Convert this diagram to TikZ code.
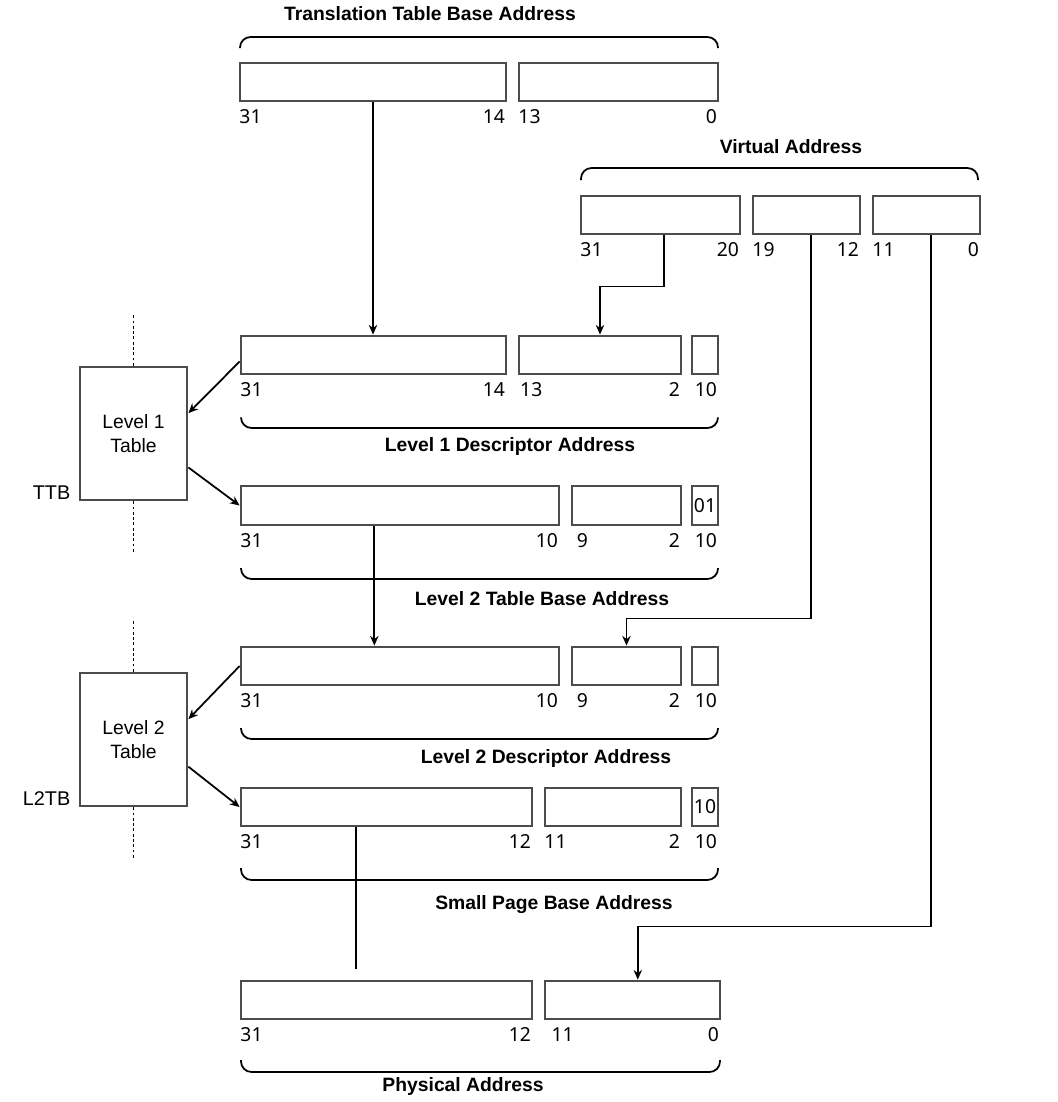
\documentclass[tikz,border=0pt]{standalone}
\usepackage{fontspec}
\setmainfont{Liberation Sans}
\newfontfamily\bitfont{Noto Sans}
\usetikzlibrary{arrows.meta,fit,calc}

\tikzset{
  field/.style={draw=black!70, line width=1.6pt, inner sep=0pt, fill=white},
  tablebox/.style={draw=black!70, line width=1.6pt, inner sep=0pt, align=center,
    font=\fontsize{11}{14}\selectfont},
  bitl/.style={anchor=base west, inner sep=0pt, yshift=-12.2pt, xshift=0.3pt,
    font=\bitfont\fontsize{11}{12}\selectfont},
  bitr/.style={anchor=base east, inner sep=0pt, yshift=-12.2pt, xshift=-1.2pt,
    font=\bitfont\fontsize{11}{12}\selectfont},
  bitin/.style={inner sep=0pt, font=\bitfont\fontsize{11}{12}\selectfont},
  heading/.style={inner sep=0pt, font=\bfseries\fontsize{11}{13}\selectfont},
  side/.style={inner sep=0pt, font=\fontsize{11.3}{13}\selectfont},
  brace/.style={line width=1pt, rounded corners=6pt},
  link/.style={line width=1pt, -{Stealth[length=5.5pt,width=4.8pt]}},
  wire/.style={line width=1pt},
  dots/.style={line width=0.9pt, dash pattern=on 1.6pt off 1.4pt}
}

\begin{document}
\begin{tikzpicture}[x=0.02cm, y=-0.02cm]
  \useasboundingbox (0,0) rectangle (1058,1102);

  % Translation table base address
  \node[field, fit={(240,63) (506,101)}] (ttba) {};
  \node[field, fit={(519,63) (718,101)}] (ttbb) {};
  \node[bitl] (ttbal) at (ttba.south west) {31};
  \node[bitr] (ttbar) at (ttba.south east) {14};
  \node[bitl] (ttbbl) at (ttbb.south west) {13};
  \node[bitr] (ttbbr) at (ttbb.south east) {0};
  \draw[brace] (240,48) -- (240,37) -- (718,37) -- (718,48);
  \node[heading] (ttbt) at (430,14) {Translation Table Base Address};

  % Virtual address
  \node[field, fit={(581,196) (740,234)}] (vaa) {};
  \node[field, fit={(753,196) (860,234)}] (vab) {};
  \node[field, fit={(873,196) (980,234)}] (vac) {};
  \node[bitl] (vaal) at (vaa.south west) {31};
  \node[bitr] (vaar) at (vaa.south east) {20};
  \node[bitl] (vabl) at (vab.south west) {19};
  \node[bitr] (vabr) at (vab.south east) {12};
  \node[bitl] (vacl) at (vac.south west) {11};
  \node[bitr] (vacr) at (vac.south east) {0};
  \draw[brace] (581,180) -- (581,168) -- (978,168) -- (978,180);
  \node[heading] (vat) at (791,147) {Virtual Address};

  % Level 1 descriptor address
  \node[field, fit={(241,336) (506,374)}] (loa) {};
  \node[field, fit={(519,336) (681,374)}] (lob) {};
  \node[field, fit={(692,336) (718,374)}] (loc) {};
  \node[bitl] (loal) at (loa.south west) {31};
  \node[bitr] (loar) at (loa.south east) {14};
  \node[bitl] (lobl) at ([xshift=1pt]lob.south west) {13};
  \node[bitr] (lobr) at (lob.south east) {2};
  \node[bitr] (locr) at (loc.south east) {10};
  \draw[brace] (241,418) -- (241,428) -- (718,428) -- (718,418);
  \node[heading] (lot) at (510,446) {Level 1 Descriptor Address};

  % Level 2 table base address
  \node[field, fit={(241,486) (559,525)}] (lta) {};
  \node[field, fit={(572,486) (681,525)}] (ltb) {};
  \node[field, fit={(692,486) (718,525)}] (ltc) {};
  \node[bitin] (ltcv) at (ltc) {01};
  \node[bitl] (ltal) at (lta.south west) {31};
  \node[bitr] (ltar) at (lta.south east) {10};
  \node[bitl] (ltbl) at ([xshift=3pt]ltb.south west) {9};
  \node[bitr] (ltbr) at (ltb.south east) {2};
  \node[bitr] (ltcr) at (ltc.south east) {10};
  \draw[brace] (241,568) -- (241,579) -- (718,579) -- (718,568);
  \node[heading] (ltt) at (542,599) {Level 2 Table Base Address};

  % Level 2 descriptor address
  \node[field, fit={(241,647) (559,685)}] (lda) {};
  \node[field, fit={(572,647) (681,685)}] (ldb) {};
  \node[field, fit={(692,647) (718,685)}] (ldc) {};
  \node[bitl] (ldal) at (lda.south west) {31};
  \node[bitr] (ldar) at (lda.south east) {10};
  \node[bitl] (ldbl) at ([xshift=3pt]ldb.south west) {9};
  \node[bitr] (ldbr) at (ldb.south east) {2};
  \node[bitr] (ldcr) at (ldc.south east) {10};
  \draw[brace] (241,728) -- (241,739) -- (718,739) -- (718,728);
  \node[heading] (ldt) at (546,758) {Level 2 Descriptor Address};

  % Small page base address
  \node[field, fit={(241,788) (532,826)}] (spa) {};
  \node[field, fit={(545,788) (681,826)}] (spb) {};
  \node[field, fit={(692,788) (718,826)}] (spc) {};
  \node[bitin] (spcv) at (spc) {10};
  \node[bitl] (spal) at (spa.south west) {31};
  \node[bitr] (spar) at (spa.south east) {12};
  \node[bitl] (spbl) at (spb.south west) {11};
  \node[bitr] (spbr) at (spb.south east) {2};
  \node[bitr] (spcr) at (spc.south east) {10};
  \draw[brace] (241,868) -- (241,880) -- (718,880) -- (718,868);
  \node[heading] (spt) at (554,905) {Small Page Base Address};

  % Physical address
  \node[field, fit={(241,981) (532,1019)}] (paa) {};
  \node[field, fit={(545,981) (720,1019)}] (pab) {};
  \node[bitl] (paal) at (paa.south west) {31};
  \node[bitr] (paar) at (paa.south east) {12};
  \node[bitl] (pabl) at ([xshift=4pt]pab.south west) {11};
  \node[bitr] (pabr) at (pab.south east) {0};
  \draw[brace] (241,1060) -- (241,1072) -- (720,1072) -- (720,1060);
  \node[heading] (pat) at (463,1086) {Physical Address};

  % Tables
  \node[tablebox, fit={(80,367) (187,500)}] (tabo) {};
  \node[inner sep=0pt, align=center, font=\fontsize{11}{13.5}\selectfont] (tabot) at (tabo) {Level 1\\Table};
  \node[side, anchor=south east] (ttbase) at ([xshift=-4.5pt,yshift=1pt]tabo.south west) {TTB};
  \draw[dots] (tabo.north) -- ++(0,-52);
  \draw[dots] (tabo.south) -- ++(0,52);

  \node[tablebox, fit={(80,673) (187,806)}] (tabt) {};
  \node[inner sep=0pt, align=center, font=\fontsize{11}{13.5}\selectfont] (tabtt) at (tabt) {Level 2\\Table};
  \node[side, anchor=south east] (ltbase) at ([xshift=-4.5pt,yshift=1pt]tabt.south west) {L2TB};
  \draw[dots] (tabt.north) -- ++(0,-52);
  \draw[dots] (tabt.south) -- ++(0,52);

  % Links
  \coordinate (vaaout) at ($(vaa.south west)!0.52!(vaa.south east)$);
  \coordinate (vabout) at ($(vab.south west)!0.54!(vab.south east)$);
  \coordinate (vacout) at ($(vac.south west)!0.54!(vac.south east)$);
  \draw[link] (ttba.south) -- (ttba.south |- loa.north);
  \draw[link] (vaaout) -- ++(0,51) -| (lob.north);
  \draw[link] (vabout) -- ++(0,383) -| (ldb.north);
  \draw[link] (vacout) -- ++(0,691) -| ([xshift=3pt]pab.north);

  \draw[link] ($(loa.north west)!0.66!(loa.south west)$) -- ($(tabo.north east)!0.35!(tabo.south east)$);
  \draw[link] ($(tabo.north east)!0.75!(tabo.south east)$) -- (lta.west);
  \draw[link] (lda.west) -- ($(tabt.north east)!0.35!(tabt.south east)$);
  \draw[link] ($(tabt.north east)!0.7!(tabt.south east)$) -- (spa.west);

  \coordinate (ltout) at ($(lta.south west)!0.42!(lta.south east)$);
  \draw[link] (ltout) -- (ltout |- lda.north);
  \coordinate (spout) at ($(spa.south west)!0.395!(spa.south east)$);
  \draw[wire, shorten >=6.2pt] (spout) -- (spout |- paa.north);

\end{tikzpicture}
\end{document}
